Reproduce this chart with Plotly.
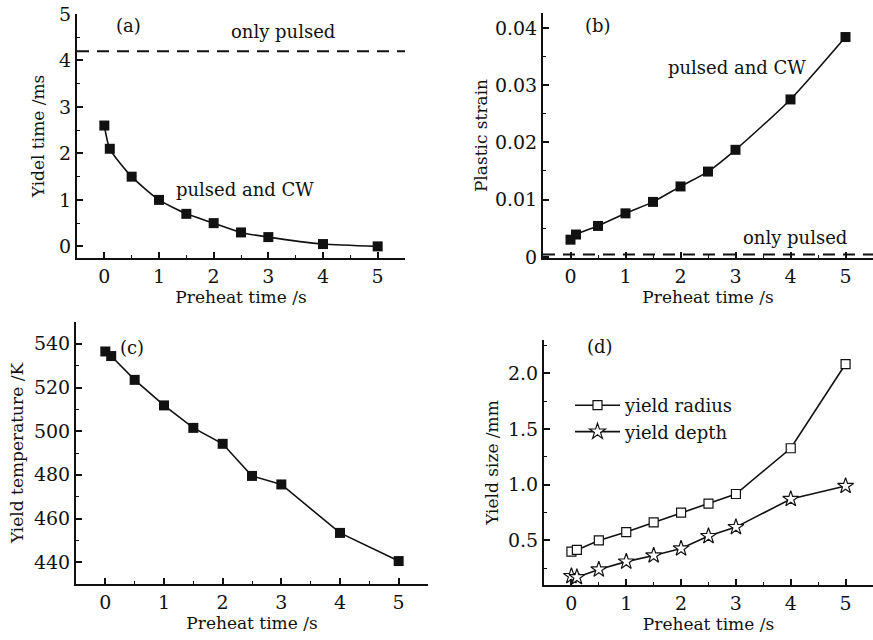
import plotly.graph_objects as go

W, H = 873, 640

preheat = [0, 0.1, 0.5, 1, 1.5, 2, 2.5, 3, 4, 5]
yield_time = [2.6, 2.1, 1.5, 1.0, 0.7, 0.5, 0.3, 0.2, 0.05, 0.0]
only_pulsed_time = 4.2
plastic_strain = [0.0030, 0.0039, 0.0054, 0.0076, 0.0096, 0.0123, 0.0149, 0.0187, 0.0275, 0.0384]
only_pulsed_strain = 0.0004
yield_temp = [536.5, 534.4, 523.5, 511.8, 501.5, 494.2, 479.5, 475.6, 453.4, 440.5]
yield_radius = [0.40, 0.415, 0.50, 0.575, 0.662, 0.749, 0.83, 0.917, 1.328, 2.084]
yield_depth = [0.18, 0.17, 0.239, 0.31, 0.365, 0.428, 0.539, 0.62, 0.872, 0.989]
strain_ticks = [0, 0.01, 0.02, 0.03, 0.04]
strain_ticktext = ["0", "0.01", "0.02", "0.03", "0.04"]

FONT = "DejaVu Serif"
BLACK = "#111111"
DASH = "12px,8px"


def px_x(v):
    return v / W


def px_y(v):
    return 1 - v / H


fig = go.Figure()

# (a) yield time
fig.add_trace(go.Scatter(
    x=[-0.5, 5.5], y=[only_pulsed_time] * 2, mode="lines",
    line=dict(color=BLACK, width=2, dash=DASH), showlegend=False,
    xaxis="x", yaxis="y",
))
fig.add_trace(go.Scatter(
    x=preheat, y=yield_time, mode="lines+markers",
    line=dict(color=BLACK, width=1.6, shape="spline", smoothing=0.6),
    marker=dict(symbol="square", size=10, color=BLACK),
    showlegend=False, xaxis="x", yaxis="y",
))

# (b) plastic strain
fig.add_trace(go.Scatter(
    x=[-0.5, 5.5], y=[only_pulsed_strain] * 2, mode="lines",
    line=dict(color=BLACK, width=2, dash=DASH), showlegend=False,
    xaxis="x2", yaxis="y2",
))
fig.add_trace(go.Scatter(
    x=preheat, y=plastic_strain, mode="lines+markers",
    line=dict(color=BLACK, width=1.6, shape="spline", smoothing=0.6),
    marker=dict(symbol="square", size=10, color=BLACK),
    showlegend=False, xaxis="x2", yaxis="y2",
))

# (c) yield temperature
fig.add_trace(go.Scatter(
    x=preheat, y=yield_temp, mode="lines+markers",
    line=dict(color=BLACK, width=1.6),
    marker=dict(symbol="square", size=10, color=BLACK),
    showlegend=False, xaxis="x3", yaxis="y3",
))

# (d) yield size
fig.add_trace(go.Scatter(
    x=preheat, y=yield_radius, mode="lines+markers", name="yield radius",
    line=dict(color=BLACK, width=1.6),
    marker=dict(symbol="square", size=9, color="white", line=dict(width=1.2, color=BLACK)),
    xaxis="x4", yaxis="y4",
))
fig.add_trace(go.Scatter(
    x=preheat, y=yield_depth, mode="lines+markers", name="yield depth",
    line=dict(color=BLACK, width=1.6),
    marker=dict(symbol="star", size=12, color="white", line=dict(width=1.2, color=BLACK)),
    xaxis="x4", yaxis="y4",
))

axis_common = dict(
    showline=True, linecolor=BLACK, linewidth=2, mirror=False,
    showgrid=False, zeroline=False, automargin=False,
    ticks="inside", ticklen=6, tickwidth=1.5, tickcolor=BLACK,
    minor=dict(ticks="inside", ticklen=3, tickwidth=1.2, tickcolor=BLACK),
    tickfont=dict(family=FONT, size=19, color=BLACK),
    title_font=dict(family=FONT, size=17, color=BLACK),
)

x_common = dict(axis_common, range=[-0.5, 5.5], tickvals=[0, 1, 2, 3, 4, 5],
                minor=dict(axis_common["minor"], dtick=0.5, tick0=0),
                title_text="Preheat time /s", title_standoff=0)

domains = {
    "a": ([px_x(77), px_x(405)], [px_y(258), px_y(14)]),
    "b": ([px_x(543), 1.0], [px_y(258), px_y(13)]),
    "c": ([px_x(76), px_x(428)], [px_y(584), px_y(322)]),
    "d": ([px_x(544), 1.0], [px_y(585), px_y(340)]),
}

fig.update_layout(
    width=W, height=H,
    margin=dict(l=0, r=0, t=0, b=0),
    paper_bgcolor="white", plot_bgcolor="white",
    font=dict(family=FONT, size=19, color=BLACK),
    xaxis=dict(x_common, domain=domains["a"][0], anchor="y"),
    yaxis=dict(axis_common, domain=domains["a"][1], anchor="x", range=[-0.25, 5],
               dtick=1, minor=dict(axis_common["minor"], dtick=0.5),
               title_text="Yidel time /ms", title_standoff=10),
    xaxis2=dict(x_common, domain=domains["b"][0], anchor="y2"),
    yaxis2=dict(axis_common, domain=domains["b"][1], anchor="x2", range=[-0.0002, 0.0426],
                tickvals=strain_ticks, ticktext=strain_ticktext,
                minor=dict(axis_common["minor"], dtick=0.005),
                title_text="Plastic strain", title_standoff=3),
    xaxis3=dict(x_common, domain=domains["c"][0], anchor="y3"),
    yaxis3=dict(axis_common, domain=domains["c"][1], anchor="x3", range=[430, 550],
                dtick=20, minor=dict(axis_common["minor"], dtick=10),
                title_text="Yield temperature /K", title_standoff=6),
    xaxis4=dict(x_common, domain=domains["d"][0], anchor="y4"),
    yaxis4=dict(axis_common, domain=domains["d"][1], anchor="x4", range=[0.1, 2.3],
                dtick=0.5, tick0=0, tickformat=".1f", minor=dict(axis_common["minor"], dtick=0.25),
                title_text="Yield size /mm", title_standoff=5),
    legend=dict(
        x=px_x(570), y=px_y(387), xanchor="left", yanchor="top",
        bgcolor="rgba(0,0,0,0)", font=dict(family=FONT, size=18, color=BLACK),
        itemwidth=45, tracegroupgap=0,
    ),
)

labels = [
    ("(a)", 128, 25), ("only pulsed", 283, 31), ("pulsed and CW", 245, 189),
    ("(b)", 598, 25), ("pulsed and CW", 737, 67), ("only pulsed", 795, 237),
    ("(c)", 132, 347), ("(d)", 600, 346),
]
for text, lx, ly in labels:
    fig.add_annotation(
        text=text, x=px_x(lx), y=px_y(ly), xref="paper", yref="paper",
        showarrow=False, xanchor="center", yanchor="middle",
        font=dict(family=FONT, size=18, color=BLACK),
    )

fig.write_html(
    "out.html",
    config={"displayModeBar": False},
    post_script="document.body.style.margin='0';",
)
